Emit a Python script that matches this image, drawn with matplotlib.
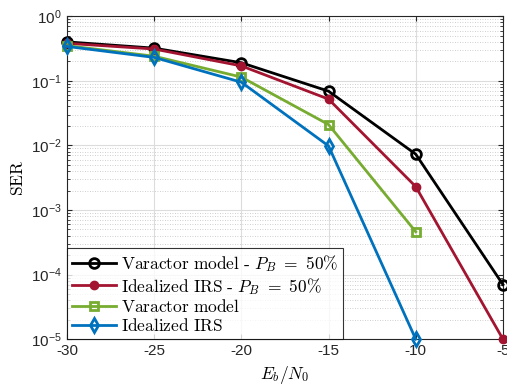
import matplotlib
matplotlib.use("Agg")
import matplotlib.pyplot as plt
import numpy as np

plt.rcParams['mathtext.fontset'] = 'cm'
plt.rcParams['font.family'] = ['Liberation Sans', 'DejaVu Sans']

ebn0 = [-30, -25, -20, -15, -10, -5]
ser_varactor_pb = [0.40, 0.32, 0.19, 0.069, 0.0073, 7e-5]
ser_ideal_pb = [0.38, 0.31, 0.17, 0.052, 0.0023, 1e-5]
ebn0_short = [-30, -25, -20, -15, -10]
ser_varactor = [0.35, 0.24, 0.114, 0.021, 4.6e-4]
ser_ideal = [0.34, 0.23, 0.095, 0.0098, 1e-5]

labels = [r'$\mathrm{Varactor\ model\ \text{-}\ }P_B\ =\ 50\%$',
          r'$\mathrm{Idealized\ IRS\ \text{-}\ }P_B\ =\ 50\%$',
          r'$\mathrm{Varactor\ model}$',
          r'$\mathrm{Idealized\ IRS}$']

fig = plt.figure(figsize=(5.07, 3.85), dpi=100)
ax = fig.add_axes([0.132, 0.119, 0.860, 0.839])

ax.semilogy(ebn0, ser_varactor_pb, color='black', lw=2, marker='o', ms=7,
            mfc='none', mew=2, label=labels[0], clip_on=False, zorder=5)
ax.semilogy(ebn0, ser_ideal_pb, color='#A2142F', lw=2, marker='o', ms=6,
            mfc='#A2142F', label=labels[1], clip_on=False, zorder=5)
ax.semilogy(ebn0_short, ser_varactor, color='#77AC30', lw=2, marker='s', ms=6,
            mfc='none', mew=2, label=labels[2], clip_on=False, zorder=5)
ax.semilogy(ebn0_short, ser_ideal, color='#0072BD', lw=2, marker='d', ms=7,
            mfc='none', mew=2, label=labels[3], clip_on=False, zorder=5)

ax.set_xlim(-30, -5)
ax.set_ylim(1e-5, 1)
ax.set_xticks([-30, -25, -20, -15, -10, -5])
ax.set_xticklabels(['-30', '-25', '-20', '-15', '-10', '-5'])
ax.set_yticks([1e-5, 1e-4, 1e-3, 1e-2, 1e-1, 1])
ax.grid(True, which='major', color='#dcdcdc', lw=0.8)
ax.grid(True, which='minor', color='#c0c0c0', lw=0.6, ls=(0, (1, 2)))
ax.tick_params(which='both', direction='in', top=True, right=True,
               labelsize=11, color='#262626', labelcolor='#262626')
for s in ax.spines.values():
    s.set_color('#262626')
    s.set_linewidth(0.8)

ax.set_xlabel(r'$E_b/N_0$', fontsize=12.5)
ax.set_ylabel(r'$\mathrm{SER}$', fontsize=12.5)

leg = ax.legend(loc='lower left', fontsize=12.5, frameon=True, fancybox=False,
                edgecolor='black', borderaxespad=0, handlelength=2.5,
                labelspacing=0.1, borderpad=0.3, handletextpad=0.3)
leg.get_frame().set_linewidth(0.8)

fig.savefig('out.png', dpi=100)
